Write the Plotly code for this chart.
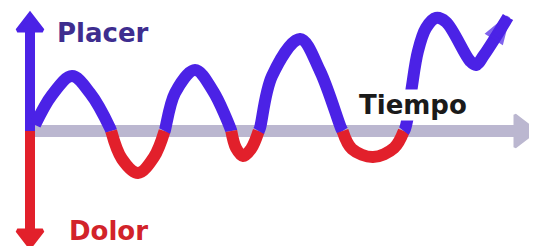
import plotly.graph_objects as go

# Time (horizontal) and feeling (positive = Placer, negative = Dolor)
tiempo = [5, 22, 42, 60, 80, 92, 108, 124, 135, 145, 165, 183, 201, 206, 213, 221, 230,
          242, 270, 290, 311, 322, 343, 364, 375, 378, 382, 388, 396, 406, 416, 440, 446, 454, 478]
sentir = [6, 36, 55, 38, 3, -28, -42, -26, 1, 38, 61, 40, 1, -17, -25, -18, 3,
          55, 92, 60, 3, -18, -26, -17, 2, 15, 45, 80, 103, 113, 109, 70, 66, 76, 114]

eje_t = [5, 485]
eje_placer = [0, 105]
eje_dolor = [0, -100]

label_placer = "Placer"
label_dolor = "Dolor"
label_tiempo = "Tiempo"

BLUE = "#4B22E6"
RED = "#E2202B"
GRAY = "#BBB7D0"

# split curve into positive / negative runs, inserting zero crossings
segments = []
cur_x, cur_y = [tiempo[0]], [sentir[0]]
cur_pos = sentir[0] >= 0
for i in range(1, len(tiempo)):
    x0, y0, x1, y1 = tiempo[i - 1], sentir[i - 1], tiempo[i], sentir[i]
    pos = y1 >= 0
    if pos != cur_pos:
        xc = x0 + (x1 - x0) * (0 - y0) / (y1 - y0)
        cur_x.append(xc); cur_y.append(0)
        segments.append((cur_pos, cur_x, cur_y))
        cur_x, cur_y = [xc], [0]
        cur_pos = pos
    cur_x.append(x1); cur_y.append(y1)
segments.append((cur_pos, cur_x, cur_y))

fig = go.Figure()

# time axis (gray) with arrow head
fig.add_trace(go.Scatter(x=eje_t, y=[0, 0], mode="lines",
                         line=dict(color=GRAY, width=12), hoverinfo="skip"))
fig.add_trace(go.Scatter(x=[eje_t[1] + 7], y=[0], mode="markers",
                         marker=dict(symbol="triangle-right", size=28, color=GRAY,
                                     line=dict(color=GRAY, width=3)), hoverinfo="skip"))

# vertical axis: pleasure (blue) up, pain (red) down
fig.add_trace(go.Scatter(x=[0, 0], y=eje_placer, mode="lines",
                         line=dict(color=BLUE, width=10), hoverinfo="skip"))
fig.add_trace(go.Scatter(x=[0], y=[eje_placer[1] + 1], mode="markers",
                         marker=dict(symbol="triangle-up", size=22, color=BLUE,
                                     line=dict(color=BLUE, width=4)), hoverinfo="skip"))
fig.add_trace(go.Scatter(x=[0, 0], y=eje_dolor, mode="lines",
                         line=dict(color=RED, width=10), hoverinfo="skip"))
fig.add_trace(go.Scatter(x=[0], y=[eje_dolor[1] - 5], mode="markers",
                         marker=dict(symbol="triangle-down", size=22, color=RED,
                                     line=dict(color=RED, width=4)), hoverinfo="skip"))

for k, (pos, xs, ys) in enumerate(segments):
    col = BLUE if pos else RED
    last = k == len(segments) - 1
    fig.add_trace(go.Scatter(
        x=xs, y=ys, mode="lines+markers" if last else "lines",
        line=dict(color=col, width=12, shape="spline", smoothing=1.0),
        marker=dict(symbol="arrow", angleref="previous", color=col,
                    size=[0] * (len(xs) - 1) + [26],
                    line=dict(color=col, width=4)) if last else None,
        hoverinfo="skip"))

fig.add_annotation(x=25, y=98, xref="x", yref="y", text=label_placer, showarrow=False,
                   xanchor="left", yanchor="middle",
                   font=dict(family="DejaVu Sans", size=26, color="#3E2D8F", weight="bold"))
fig.add_annotation(x=37, y=-100, xref="x", yref="y", text=label_dolor, showarrow=False,
                   xanchor="left", yanchor="middle",
                   font=dict(family="DejaVu Sans", size=26, color="#D2232A", weight="bold"))
fig.add_annotation(x=328, y=26, xref="x", yref="y", text=label_tiempo, showarrow=False,
                   xanchor="left", yanchor="middle", bgcolor="white", borderpad=0,
                   font=dict(family="DejaVu Sans", size=26, color="#1A1A1A", weight="bold"))

# page body adds an 8px offset; figure is sized to fill the rest of the window
fig.update_layout(
    width=529, height=238, margin=dict(l=0, r=0, t=0, b=0),
    paper_bgcolor="white", plot_bgcolor="white", showlegend=False,
    xaxis=dict(range=[-22, 507], visible=False, fixedrange=True),
    yaxis=dict(range=[-115, 123], visible=False, fixedrange=True),
)

fig.write_html("out.html")
